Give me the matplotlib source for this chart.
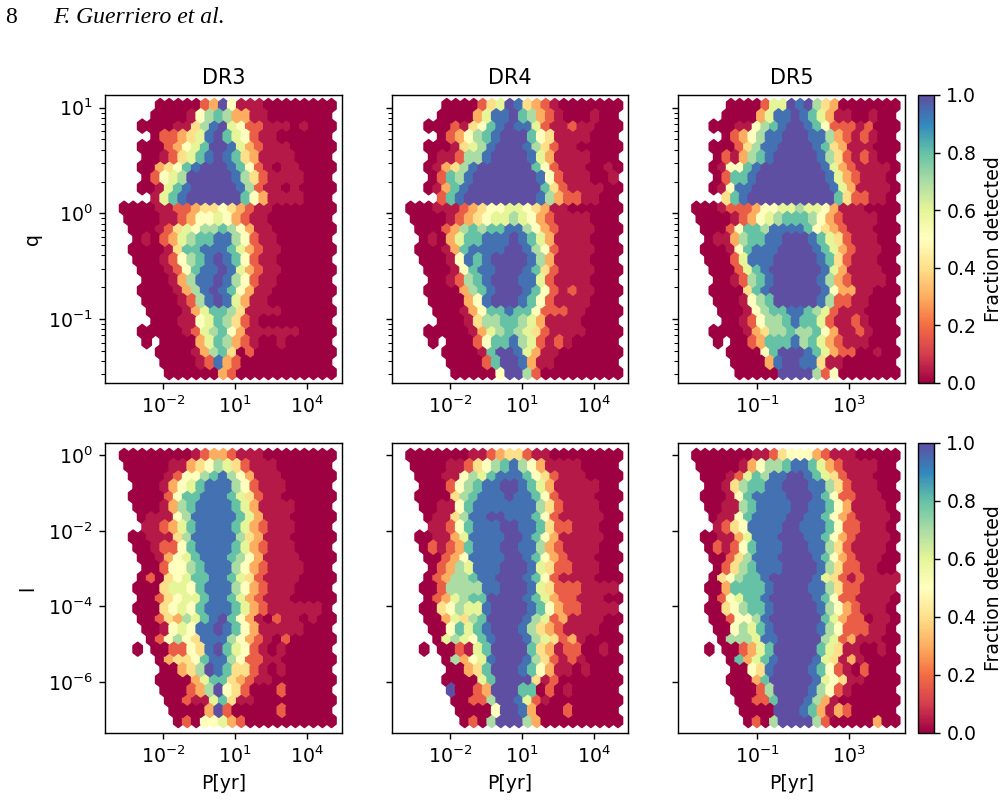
import numpy as np
import matplotlib
matplotlib.use("Agg")
import matplotlib.pyplot as plt
from matplotlib.ticker import LogLocator, NullLocator, NullFormatter, FixedLocator

plt.rcParams["font.family"] = "DejaVu Sans"
plt.rcParams["font.size"] = 10.7

# Detection fractions per hexagon, top row first. Even rows hold 24 cells,
# odd rows 23 (the offset lattice). Digits are tenths, 'a' is 1.0, '.' is a bin
# with no systems.
q_dr3 = [
    "....0000023a511100000000",
    "...0000157873311" "0000000",
    "..000011" "479a6522" "11101000",
    "...0" "223469a865211" "000000",
    "..000" "23568aa9632111" "00000",
    "..00" "124689a9843111" "10000",
    "..00" "34589aaa98521" "011" "0000",
    "..0" "25" "67aaaaa97421111" "000",
    "..00" "1689aaaaa9721101" "0000",
    "..." "1689aaaaaa8531111000",
    "0000" "1122344543211" "0000000",
    "0000" "112355653211" "0000000",
    ".000" "1246577875311" "0000000",
    ".010" "2367889975211" "000000",
    ".0000" "1488999863211" "000000",
    ".000" "125789a985211" "000000",
    "..000" "125899a963211" "000000",
    "..000" "13799a975211" "000000",
    "..0000" "1379a985311" "0000000",
    "..0000" "1279a96311" "0000000",
    "...0000" "13688741111" "000000",
    "...000" "115687421" "00000000",
    "..00000" "1267853111111" "0000",
    "..0.0000" "3687321" "00100000",
    "....0000" "1378402" "000000000",
    "....0000" "12932" "0000000000",
    ".....000000" "32" "00000000000",
]
q_dr4 = [
    "....0000" "246a94321" "0000000",
    "...0000" "3699a87321" "000100",
    "..000" "214589a996211211" "000",
    "...0" "235789aaa8541111" "000",
    "..000" "14679aaa974211" "00000",
    "..01" "12779aaaa9631111" "000",
    "..01" "3479" "aaaaaa" "8521110010",
    "..02" "879" "aaaaaaa" "952111001",
    "..01" "389" "aaaaaaaa" "842111100",
    "..." "289" "aaaaaaaa" "973221100",
    "000" "111234556654311" "000000",
    "0000" "1234566765321111" "000",
    ".000" "23787889975321111" "000",
    ".010" "3688999a98631111" "000",
    ".000" "1389999aa97521111" "000",
    ".000" "15989aaaa9731111" "000",
    "..000" "15899aaa98421111" "000",
    "..00" "12789aaa99621111" "000",
    "..0000" "3789aaa98521211" "000",
    "..0000" "359aaa98521111" "000",
    "...000" "13588988522211" "0000",
    "...000" "1477887631111" "0000",
    "..00000" "1367876421111" "0000",
    "..0.000" "25889762121" "00000",
    "....0000" "18aa96311" "0000000",
    "....0000" "28aa9311" "0000000",
    ".....00000" "5aa72" "000000000",
]
q_dr5 = [
    "....0000" "266a9a743" "0000000",
    "...0000" "3699a986311" "00100",
    "..000" "115789aa98522212" "000",
    "...0" "235799aaa99732121" "00",
    "..000" "24799aaaa9843111" "000",
    "..0" "213789" "aaaaa" "9742121" "00",
    "..0" "15589" "aaaaaaa" "963211110",
    "..0" "2889" "aaaaaaaa" "96321110",
    "..0" "1599" "aaaaaaaaa" "96311110",
    "..." "489" "aaaaaaaaaa" "8422110",
    "000" "12223556676653111" "0000",
    "0000" "12356788875321111" "00",
    ".000" "25887999985432111" "000",
    ".011" "378899aaa98642111" "00",
    ".000" "158999aaaa98632111" "00",
    ".000" "26999" "aaaaa" "9842111" "00",
    "..000" "2689" "aaaaaa" "963111100",
    "..00" "12789" "aaaaa" "973211110",
    "..0000" "489" "aaaaaa" "953311000",
    "..0001" "578" "aaaaa" "972211000",
    "...000" "15788998762111" "0000",
    "...001" "25778988621121" "000",
    "..00001" "34778778531121" "000",
    "..0.00" "23888978632111" "000",
    "....0000" "58aaa986322" "00100",
    "....0000" "39aa99411" "000000",
    ".....00000" "aaaa725" "0000000",
]
l_dr3 = [
    "00000000" "12332111" "00000000",
    "00000" "113457642111" "000000",
    ".0000" "1255789753111" "000000",
    ".000" "13568999752111" "00000",
    ".0000" "2588999864211" "000000",
    ".000" "137899998631111" "0000",
    "..0" "1115799999863111" "00000",
    ".." "11236899998632111" "0000",
    ".00" "1114799999743111" "00000",
    ".00" "1225899998632111" "0000",
    "..00" "1356899987531111" "0000",
    "..00" "2557899975321111" "000",
    "..020" "456889986421111" "0000",
    ".000" "466589997532111" "0000",
    "..00" "245668998632111" "00000",
    ".000" "4565899986321111110",
    "..00" "2437689a853102110100",
    "..00" "156599a985311111" "000",
    "...0" "257549997532102" "00000",
    ".0.00" "22549a8652101" "00000",
    "....0" "3445899752211" "000000",
    "....00" "347a98442101" "00000",
    "....0000" "368843211" "0000000",
    "....000" "237a542" "000200000",
    ".....00" "21168411" "000000000",
    ".....0000" "3a2" "00000200000",
    "......" "02055632" "0000000000",
]
l_dr4 = [
    "0000000" "112344211" "00000000",
    "0000" "112457897531111" "0000",
    ".000" "1157689998542111" "0000",
    ".000" "257899aa986311111" "00",
    ".0000" "478999a998521111" "000",
    ".00" "115899999997421111" "00",
    "..0" "114799aa99985211111" "00",
    ".." "11258999aa998422111" "00",
    ".00" "11369999aa98531111100",
    ".0" "21238999aa997321111" "00",
    "..00" "2359999aa98532111" "000",
    "..0" "2376999aaa96422111" "00",
    "..0" "2377899aaa98521111" "000",
    ".00" "2777799aaa9642221111",
    "..0" "236788aaaa986322111" "00",
    ".00" "457669aaaa9853221111",
    "..00" "36478aaaa97623111100",
    "..00" "58689aaa974321111" "00",
    "...0" "676589aaa9764231" "0000",
    ".0.00" "2168aaaa8431220010",
    "....0" "73569aaa9742121" "0000",
    "....00" "348aaa98531101" "000",
    "....0000" "68aaaa412" "0000000",
    "....a0023aaa880201" "00000",
    ".....00" "227aa9621" "00000000",
    ".....0000" "5aa93" "000200000",
    "......" "0207aaa73" "000000000",
]
l_dr5 = [
    "0000000" "112455532111" "00000",
    "00000" "1357789986321111" "00",
    ".000" "1268799aa98642111" "000",
    ".00" "1478899aaa99742111" "00",
    ".000" "1589999aaa98522111" "00",
    ".00" "11789999aa9985311110",
    "..0" "11589999aa99853211110",
    ".." "12459999aa99985221110",
    ".00" "1136999aaa99853211110",
    ".0" "21258999aaa9974211110",
    "..00" "247999aaaa98532111" "00",
    ".." "02478999aaaa974221100",
    ".." "0457889aaaaa9642121111",
    ".00" "388889aaaa9974221111",
    ".." "0256889aaaaa9852211110",
    ".00" "457889aaaaa975321110",
    "..00" "25579aaaaaa863220110",
    "..00" "57689aaaaa975222110",
    "..." "0777699aaaaa762311100",
    ".0.00" "2368aaaaa864110010",
    "...." "083689aaaa9641310000",
    "....00" "549aaaa9852102000",
    "....000" "38aaaaa9654110000",
    "....000" "27aaaa97521" "00000",
    ".....00" "228aaa9731" "0000000",
    ".....0000" "aaa983132" "00000",
    "......" "0207aaaa72" "00000300",
]

titles = ["DR3", "DR4", "DR5"]
q_rows = [q_dr3, q_dr4, q_dr5]
l_rows = [l_dr3, l_dr4, l_dr5]

# Fraction represented by each digit; the faint tints sit well below a tenth.
LEVELS = {"0": 0.0, "1": 0.04, "2": 0.17, "3": 0.3, "4": 0.4, "5": 0.5,
          "6": 0.6, "7": 0.7, "8": 0.8, "9": 0.94, "a": 1.0}

# log10 extents of the hexagon lattice and of the visible axes
GRID = (23, 13)
X_EXTENT = (-3.64, 5.02)
Q_EXTENT = (-1.506, 1.02)
L_EXTENT = (-7.025, 0.0)
XLIM = (10 ** -4.44, 10 ** 5.44)
QLIM = (10 ** -1.605, 10 ** 1.12)
LLIM = (10 ** -7.354, 10 ** 0.33)


def cells(rows, extent_y):
    """Turn the row strings into hexagon centres and fractions."""
    nx, ny = GRID
    sx = (X_EXTENT[1] - X_EXTENT[0]) / nx
    sy = (extent_y[1] - extent_y[0]) / ny
    xs, ys, cs = [], [], []
    for r, row in enumerate(rows):
        want = nx + 1 if r % 2 == 0 else nx
        if len(row) != want:
            raise ValueError(f"row {r} has {len(row)} cells: {row}")
        shift = 0.0 if r % 2 == 0 else 0.5
        for i, ch in enumerate(row):
            if ch == ".":
                continue
            xs.append(10 ** (X_EXTENT[0] + (i + shift) * sx))
            ys.append(10 ** (extent_y[1] - r * sy / 2))
            cs.append(LEVELS[ch])
    return np.array(xs), np.array(ys), np.array(cs)


W, H = 1007, 800
DPI = 127
fig = plt.figure(figsize=(W / DPI, H / DPI), dpi=DPI)


def box(x0, x1, y0, y1):
    return [x0 / W, 1 - y1 / H, (x1 - x0) / W, (y1 - y0) / H]


columns = [(105, 341.5), (391.5, 628), (678, 905)]
row_spans = [(95, 383), (443, 733)]

for row_idx, (span, data, extent_y, ylim) in enumerate(
    zip(row_spans, (q_rows, l_rows), (Q_EXTENT, L_EXTENT), (QLIM, LLIM))
):
    for col_idx, (x0, x1) in enumerate(columns):
        ax = fig.add_axes(box(x0, x1, span[0], span[1]))
        x, y, c = cells(data[col_idx], extent_y)
        hb = ax.hexbin(x, y, C=c, gridsize=GRID, xscale="log", yscale="log",
                       extent=X_EXTENT + extent_y, cmap="Spectral",
                       vmin=0, vmax=1, reduce_C_function=np.mean)
        ax.set_xlim(XLIM)
        ax.set_ylim(ylim)
        xticks = [1e-1, 1e3] if col_idx == 2 else [1e-2, 1e1, 1e4]
        ax.xaxis.set_major_locator(FixedLocator(xticks))
        ax.xaxis.set_minor_locator(NullLocator())
        if row_idx == 0:
            ax.yaxis.set_major_locator(FixedLocator([1e-1, 1e0, 1e1]))
            ax.yaxis.set_minor_locator(LogLocator(base=10, subs=np.arange(2, 10) * 0.1, numticks=12))
            ax.yaxis.set_minor_formatter(NullFormatter())
            ax.set_title(titles[col_idx], fontsize=11.8)
        else:
            ax.yaxis.set_major_locator(FixedLocator([1e-6, 1e-4, 1e-2, 1e0]))
            ax.yaxis.set_minor_locator(NullLocator())
            ax.set_xlabel("P[yr]")
        if col_idx == 0:
            ax.set_ylabel("q" if row_idx == 0 else "l", labelpad=3.5 if row_idx == 0 else 6)
        else:
            ax.set_yticklabels([])
        if col_idx == 2:
            cax = fig.add_axes(box(918, 934, span[0], span[1]))
            fig.colorbar(hb, cax=cax, label="Fraction detected")

fig.text(5 / W, 1 - 23 / H, "8", family="Liberation Serif", fontsize=13.4)
fig.text(53 / W, 1 - 23 / H, "F. Guerriero et al.", family="Liberation Serif",
         style="italic", fontsize=13.4)

fig.savefig("out.png", dpi=DPI)
